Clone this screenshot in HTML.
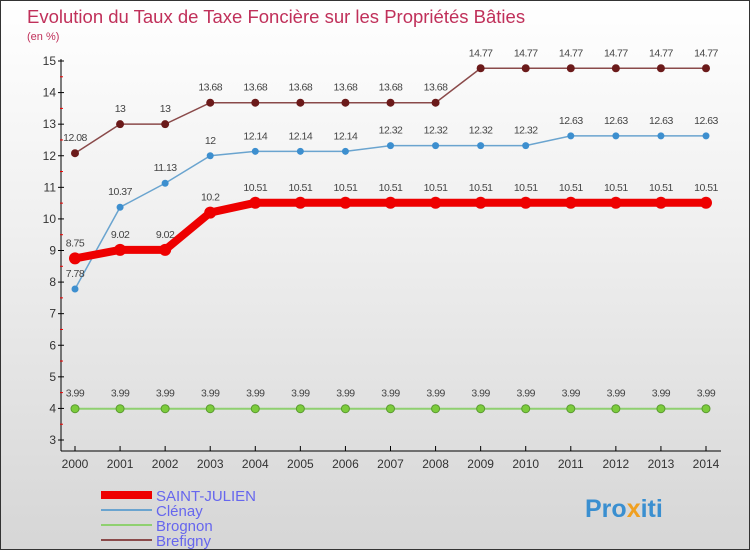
<!DOCTYPE html>
<html><head><meta charset="utf-8"><style>
body{margin:0}
#c{width:748px;height:548px;border:1px solid #333;background:linear-gradient(#fff 0%,#f0f0f0 40%,#d6d6d6 100%);position:relative;font-family:"Liberation Sans",sans-serif}
svg{position:absolute;left:0;top:0}
</style></head><body>
<div id="c">
<svg id="s" width="748" height="548">
<text x="26" y="22" font-size="18.5" fill="#c0305a">Evolution du Taux de Taxe Foncière sur les Propriétés Bâties</text>
<text x="26" y="39" font-size="11" fill="#c0305a">(en %)</text>
<text x="584" y="516" font-size="25" font-weight="bold" fill="#3a8fd0">Pro<tspan fill="#f0a020">x</tspan>iti</text>
</svg>
</div>
<script>
const years=[2000,2001,2002,2003,2004,2005,2006,2007,2008,2009,2010,2011,2012,2013,2014];
const yTicks=[3,4,5,6,7,8,9,10,11,12,13,14,15];
const names=["SAINT-JULIEN","Clénay","Brognon","Brefigny"];
const stJulien=[8.75,9.02,9.02,10.2,10.51,10.51,10.51,10.51,10.51,10.51,10.51,10.51,10.51,10.51,10.51];
const clenay=[7.78,10.37,11.13,12,12.14,12.14,12.14,12.32,12.32,12.32,12.32,12.63,12.63,12.63,12.63];
const brognon=[3.99,3.99,3.99,3.99,3.99,3.99,3.99,3.99,3.99,3.99,3.99,3.99,3.99,3.99,3.99];
const brefigny=[12.08,13,13,13.68,13.68,13.68,13.68,13.68,13.68,14.77,14.77,14.77,14.77,14.77,14.77];
const s=document.getElementById('s');const NS='http://www.w3.org/2000/svg';
function X(i){return 74+i*(631/14);}
function Y(v){return 439-(v-3)*(379/12);}
function mk(t,a,p){const e=document.createElementNS(NS,t);for(const k in a)e.setAttribute(k,a[k]);(p||s).appendChild(e);return e;}
let ax=mk('line',{x1:60,y1:58,x2:60,y2:450,stroke:'#000'});


let bx=mk('line',{x1:60,y1:450,x2:720,y2:450,stroke:'#000'});


yTicks.forEach(v=>{mk('line',{x1:57,y1:Y(v),x2:63,y2:Y(v),stroke:'#000'});
 if(v<15)mk('line',{x1:59,y1:Y(v+0.5),x2:62,y2:Y(v+0.5),stroke:'#e00'});
 const t=mk('text',{x:55,y:Y(v)+4,'font-size':12,'text-anchor':'end',fill:'#333'});t.textContent=v;
 
 });
years.forEach((y,i)=>{mk('line',{x1:X(i),y1:445,x2:X(i),y2:450,stroke:'#000'});
 const t=mk('text',{x:X(i),y:467,'font-size':12,'text-anchor':'middle',fill:'#333'});t.textContent=y;
 
 });
function fmt(v){return String(v);}
const series=[[brognon,'#8fd070','#7ccc3c',2,4],[brefigny,'#8a4a4a','#6b1a1a',1.5,4],[clenay,'#6aa4cf','#3d8fcf',1.5,3.5],[stJulien,'#ee0000','#ee0000',8,6]];
series.forEach(([d,lc,pc,w,r],k)=>{
 const g=mk('g',{});
 
 
 mk('polyline',{points:d.map((v,i)=>X(i)+','+Y(v)).join(' '),fill:'none',stroke:lc,'stroke-width':w},g);
 d.forEach((v,i)=>{const c=mk('circle',{cx:X(i),cy:Y(v),r:r,fill:pc,stroke:k==0?'#5a9a30':'none'},g);
  
  
  const t=mk('text',{x:X(i),y:Y(v)-12,'font-size':10.5,'text-anchor':'middle',fill:'#444','letter-spacing':'-0.5'},g);t.textContent=fmt(v);
  
  });
});
const lc=['#ee0000','#6aa4cf','#8fd070','#8a4a4a'],lw=[8,2,2,2];
names.forEach((n,i)=>{const yy=494+i*15;
 const g=mk('g',{});
 
 
 mk('line',{x1:100,y1:yy,x2:151,y2:yy,stroke:lc[i],'stroke-width':lw[i]},g);
 const t=mk('text',{x:155,y:yy+6,'font-size':15,fill:'#6666ee'},g);t.textContent=n;});
</script>
</body></html>
